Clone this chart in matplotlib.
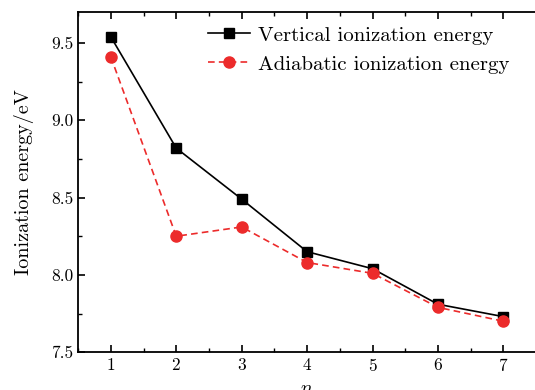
import matplotlib
matplotlib.use("Agg")
import matplotlib.pyplot as plt
from matplotlib.ticker import MultipleLocator, FormatStrFormatter

# data
n = [1, 2, 3, 4, 5, 6, 7]
vertical = [9.54, 8.82, 8.49, 8.15, 8.04, 7.81, 7.73]
adiabatic = [9.41, 8.25, 8.31, 8.08, 8.01, 7.79, 7.70]

plt.rcParams["font.family"] = "serif"
plt.rcParams["font.serif"] = ["cmr10"]
plt.rcParams["mathtext.fontset"] = "cm"
plt.rcParams["axes.formatter.use_mathtext"] = True

fig = plt.figure(figsize=(5.35, 3.9), dpi=100)
# right spine sits just past the image edge, like the reference
ax = fig.add_axes([0.146, 0.097, 0.856, 0.872])

ax.plot(n, vertical, color="black", lw=1.2, marker="s", ms=7.5,
        label="Vertical ionization energy")
ax.plot(n, adiabatic, color="#ec2b2b", lw=1.2, ls=(0, (4, 2.5)), marker="o", ms=8,
        label="Adiabatic ionization energy")

ax.set_xlim(0.5, 7.5)
ax.set_ylim(7.5, 9.7)
ax.xaxis.set_major_locator(MultipleLocator(1))
ax.xaxis.set_minor_locator(MultipleLocator(0.5))
ax.yaxis.set_major_locator(MultipleLocator(0.5))
ax.yaxis.set_minor_locator(MultipleLocator(0.25))
ax.yaxis.set_major_formatter(FormatStrFormatter("%.1f"))
ax.tick_params(which="both", direction="in", top=True, right=False, labelsize=12.5)
ax.tick_params(which="major", length=5, width=1.2)
ax.tick_params(which="minor", length=3, width=1.0)
for s in ax.spines.values():
    s.set_linewidth(1.3)

ax.set_xlabel("$n$", fontsize=14)
ax.set_ylabel("Ionization energy/eV", fontsize=14.5, labelpad=12)

ax.legend(loc="upper left", frameon=False, fontsize=15, handlelength=2.0,
          handletextpad=0.4, borderpad=0, borderaxespad=0, labelspacing=0.5,
          bbox_to_anchor=(208 / 535, 1 - 26 / 390), bbox_transform=fig.transFigure)

fig.savefig("out.png", dpi=100)
